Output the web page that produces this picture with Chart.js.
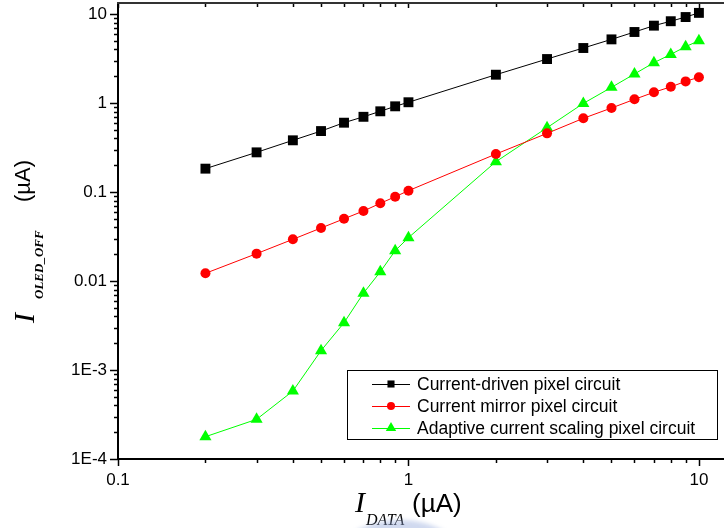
<!DOCTYPE html>
<html>
<head>
<meta charset="utf-8">
<script src="https://cdn.jsdelivr.net/npm/chart.js@4.4.1/dist/chart.umd.min.js"></script>
<style>
  html, body { margin: 0; padding: 0; background: #fff; overflow: hidden; }
  #wrap { width: 724px; height: 528px; position: relative; }
</style>
</head>
<body>
<div id="wrap"><canvas id="chart" width="724" height="528"></canvas></div>
<script>
// Data current I_DATA (µA)
const iData = [0.2, 0.3, 0.4, 0.5, 0.6, 0.7, 0.8, 0.9, 1, 2, 3, 4, 5, 6, 7, 8, 9, 10];

// OLED off-state current I_OLED_OFF (µA) for each pixel circuit
const currentDriven   = [0.183, 0.279, 0.381, 0.484, 0.601, 0.70, 0.807, 0.918, 1.02, 2.08, 3.12, 4.15, 5.19, 6.28, 7.4, 8.3, 9.25, 10.3];
const currentMirror   = [0.0122, 0.0203, 0.0294, 0.0394, 0.050, 0.0612, 0.0746, 0.0885, 0.1035, 0.267, 0.456, 0.673, 0.879, 1.10, 1.32, 1.52, 1.75, 1.95];
const adaptiveScaling = [1.78e-4, 2.79e-4, 5.8e-4, 1.65e-3, 3.4e-3, 7.3e-3, 0.0127, 0.0219, 0.0307, 0.219, 0.528, 0.99, 1.50, 2.12, 2.84, 3.52, 4.30, 5.01];

const seriesNames = ['Current-driven pixel circuit', 'Current mirror pixel circuit', 'Adaptive current scaling pixel circuit'];

const xTickValues = [0.1, 1, 10];
const xTickLabels = ['0.1', '1', '10'];
const yTickValues = [1e-4, 1e-3, 0.01, 0.1, 1, 10];
const yTickLabels = ['1E-4', '1E-3', '0.01', '0.1', '1', '10'];

const SANS = '"Liberation Sans", Arial, sans-serif';
const SERIF = '"Liberation Serif", "Times New Roman", serif';

function pairs(ys) { return iData.map((x, i) => ({ x: x, y: ys[i] })); }

const styles = [
  { color: '#000000', pointStyle: 'rect', radius: 7, legendRadius: 5 },
  { color: '#ff0000', pointStyle: 'circle', radius: 5, legendRadius: 4 },
  { color: '#00ff00', pointStyle: 'triangle', radius: 7, legendRadius: 6 }
];
const seriesValues = [currentDriven, currentMirror, adaptiveScaling];

const datasets = seriesValues.map((vals, k) => ({
  label: seriesNames[k],
  data: pairs(vals),
  borderColor: styles[k].color,
  backgroundColor: styles[k].color,
  borderWidth: 1,
  pointStyle: styles[k].pointStyle,
  pointRadius: styles[k].radius,
  pointBackgroundColor: styles[k].color,
  pointBorderColor: styles[k].color,
  pointBorderWidth: 0,
  showLine: true,
  tension: 0
}));

function noScalePadding(s) {
  s.paddingTop = 0; s.paddingBottom = 0; s.paddingLeft = 0; s.paddingRight = 0;
}

// Frame, minor/major tick marks, legend box and axis titles
const decor = {
  id: 'decor',
  afterDraw(chart) {
    const ctx = chart.ctx;
    const xs = chart.scales.x, ys = chart.scales.y;
    const L = chart.chartArea.left, R = chart.chartArea.right;
    const T = chart.chartArea.top, B = chart.chartArea.bottom;
    ctx.save();

    // tick marks
    ctx.strokeStyle = '#000';
    ctx.lineWidth = 1.5;
    for (let d = -1; d <= 1; d++) {
      for (let m = 1; m <= 9; m++) {
        const v = m * Math.pow(10, d);
        if (v < xs.min || v > xs.max) continue;
        const px = Math.round(xs.getPixelForValue(v)) + 0.5;
        const major = m === 1;
        ctx.beginPath();
        ctx.moveTo(px, B); ctx.lineTo(px, B + (major ? 7 : 4));
        ctx.moveTo(px, T); ctx.lineTo(px, T + (major ? 5 : 4));
        ctx.stroke();
      }
    }
    for (let d = -4; d <= 1; d++) {
      for (let m = 1; m <= 9; m++) {
        const v = m * Math.pow(10, d);
        if (v < ys.min * 0.999 || v > ys.max) continue;
        const py = Math.round(ys.getPixelForValue(v)) + 0.5;
        const major = m === 1;
        ctx.beginPath();
        ctx.moveTo(L, py); ctx.lineTo(L - (major ? 8 : 4), py);
        ctx.stroke();
      }
    }

    // axis lines
    ctx.lineWidth = 2;
    ctx.strokeStyle = '#000';
    ctx.beginPath();
    ctx.moveTo(L, T); ctx.lineTo(L, B + 1);
    ctx.moveTo(L - 1, B); ctx.lineTo(R, B);
    ctx.stroke();
    ctx.strokeStyle = '#333';
    ctx.beginPath();
    ctx.moveTo(L - 1, T); ctx.lineTo(R, T);
    ctx.stroke();

    // legend
    const bx = 347.5, by = 370.5, bw = 370, bh = 69;
    ctx.fillStyle = '#fff';
    ctx.fillRect(bx, by, bw, bh);
    ctx.strokeStyle = '#000';
    ctx.lineWidth = 1;
    ctx.strokeRect(bx, by, bw, bh);
    const rowsY = [384, 406, 428];
    chart.data.datasets.forEach((ds, k) => {
      const y = rowsY[k];
      ctx.strokeStyle = ds.borderColor;
      ctx.lineWidth = 1;
      ctx.beginPath();
      ctx.moveTo(372, y + 0.5); ctx.lineTo(410, y + 0.5);
      ctx.stroke();
      ctx.fillStyle = ds.borderColor;
      Chart.helpers.drawPoint(ctx, { pointStyle: ds.pointStyle, rotation: 0, radius: styles[k].legendRadius, borderWidth: 0 }, 391, y);
      ctx.fillStyle = '#000';
      ctx.font = '17.5px ' + SANS;
      ctx.textBaseline = 'middle';
      ctx.textAlign = 'left';
      ctx.fillText(ds.label, 417, y + 1);
    });

    // x axis title: I_DATA (µA)
    ctx.fillStyle = '#000';
    ctx.textBaseline = 'alphabetic';
    ctx.textAlign = 'left';
    ctx.font = 'italic 30px ' + SERIF;
    ctx.fillText('I', 355, 512);
    ctx.font = 'italic 16px ' + SERIF;
    ctx.fillText('DATA', 366, 525);
    ctx.font = '26px ' + SANS;
    ctx.fillText('(\u00b5A)', 412, 512);

    // y axis title: I_OLED_OFF (µA), rotated
    ctx.save();
    ctx.translate(34, 323);
    ctx.rotate(-Math.PI / 2);
    ctx.font = 'italic 30px ' + SERIF;
    ctx.fillText('I', 0, 0);
    ctx.font = 'italic bold 13px ' + SERIF;
    ctx.fillText('OLED_OFF', 24, 9);
    ctx.font = '22px ' + SANS;
    ctx.fillText('(\u00b5A)', 121, -4);
    ctx.restore();

    // faint seal mark under the x title
    ctx.save();
    ctx.filter = 'blur(2px)';
    ctx.fillStyle = 'rgba(150,170,220,0.45)';
    ctx.beginPath();
    ctx.ellipse(400, 552, 58, 32, 0, 0, Math.PI * 2);
    ctx.fill();
    ctx.restore();

    ctx.restore();
  }
};

new Chart(document.getElementById('chart'), {
  type: 'line',
  data: { datasets: datasets },
  options: {
    responsive: false,
    animation: false,
    devicePixelRatio: 1,
    layout: { autoPadding: false, padding: { top: 3, right: 0, bottom: 0, left: 0 } },
    plugins: { legend: { display: false }, tooltip: { enabled: false } },
    scales: {
      x: {
        type: 'logarithmic',
        position: 'bottom',
        min: 0.1,
        max: 12.2,
        grid: { display: false, drawTicks: false },
        border: { display: false },
        ticks: {
          color: '#000',
          font: { family: SANS, size: 17 },
          padding: 11,
          autoSkip: false,
          maxRotation: 0,
          callback: (v) => { const i = xTickValues.indexOf(v); return i >= 0 ? xTickLabels[i] : ''; }
        },
        afterBuildTicks: (s) => { s.ticks = xTickValues.map(v => ({ value: v })); },
        afterFit: (s) => { s.height = 69; noScalePadding(s); }
      },
      y: {
        type: 'logarithmic',
        position: 'left',
        min: 1e-4,
        max: 13.3,
        grid: { display: false, drawTicks: false },
        border: { display: false },
        ticks: {
          color: '#000',
          font: { family: SANS, size: 17 },
          padding: 11,
          autoSkip: false,
          callback: (v) => { const i = yTickValues.indexOf(v); return i >= 0 ? yTickLabels[i] : ''; }
        },
        afterBuildTicks: (s) => { s.ticks = yTickValues.map(v => ({ value: v })); },
        afterFit: (s) => { s.width = 118; noScalePadding(s); }
      }
    }
  },
  plugins: [decor]
});
</script>
</body>
</html>
